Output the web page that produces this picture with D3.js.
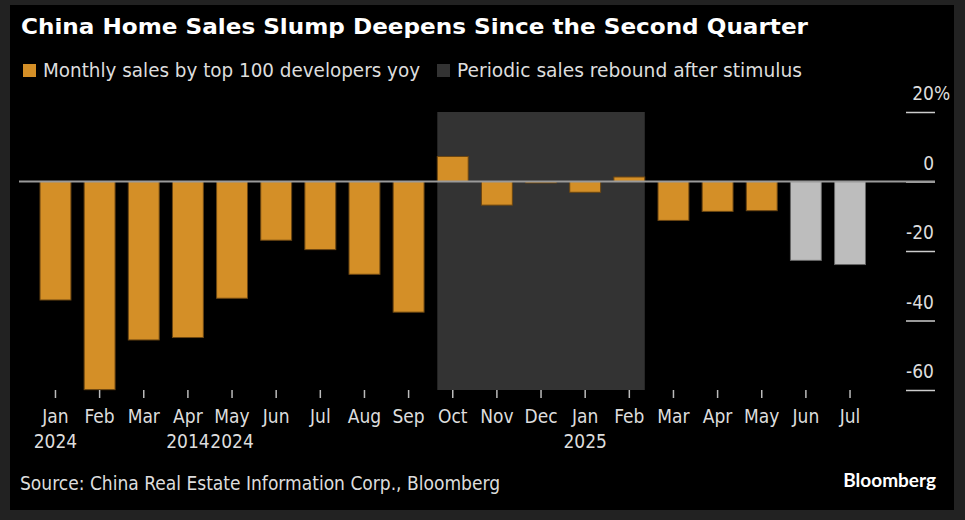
<!DOCTYPE html>
<html>
<head>
<meta charset="utf-8">
<script src="https://cdn.jsdelivr.net/npm/d3@7"></script>
<style>
  body { margin: 0; background: #222; }
  text { font-family: "Liberation Sans Narrow", "DejaVu Sans Condensed", "Roboto", sans-serif; }
</style>
</head>
<body>
<script>
// data
var months = ["Jan", "Feb", "Mar", "Apr", "May", "Jun", "Jul", "Aug", "Sep", "Oct", "Nov", "Dec",
              "Jan", "Feb", "Mar", "Apr", "May", "Jun", "Jul"];
var years = ["2024", "", "", "2014", "2024", "", "", "", "", "", "", "", "2025", "", "", "", "", "", ""];
var sales = [-34.1, -59.9, -45.6, -44.9, -33.6, -16.9, -19.6, -26.7, -37.6, 7.2, -6.8, -0.4,
             -3.1, 1.3, -11.2, -8.6, -8.4, -22.7, -23.9];
var prelim = [0, 0, 0, 0, 0, 0, 0, 0, 0, 0, 0, 0, 0, 0, 0, 0, 0, 1, 1];
var yTicks = [20, 0, -20, -40, -60];
var shadeFrom = 9, shadeTo = 13; // Oct 2024 .. Feb 2025

var W = 965, H = 520;
var svg = d3.select("body").append("svg").attr("width", W).attr("height", H);

svg.append("rect").attr("width", W).attr("height", H).attr("fill", "#222");
svg.append("rect").attr("x", 10).attr("y", 5).attr("width", 944).attr("height", 505).attr("fill", "#000");

var idx = d3.range(months.length);
var x = d3.scaleBand().domain(idx).range([33.4, 872.1]).paddingInner(0.3).paddingOuter(0.15);
var y = d3.scaleLinear().domain([20, -60]).range([112, 390]);

// shaded stimulus period
svg.append("rect")
    .attr("x", x(shadeFrom))
    .attr("y", y(20))
    .attr("width", x(shadeTo) + x.bandwidth() - x(shadeFrom))
    .attr("height", y(-60) - y(20))
    .attr("fill", "#333");

// y axis on the right
var yAxis = svg.append("g")
    .attr("transform", "translate(935,0)")
    .call(d3.axisLeft(y).tickValues(yTicks).tickSize(29).tickFormat(function (d) { return d; }));
yAxis.select(".domain").remove();
yAxis.selectAll(".tick line").attr("stroke", "#ccc").attr("stroke-width", 1.5);
yAxis.selectAll(".tick text")
    .attr("x", -1).attr("dy", -12.5)
    .attr("text-anchor", "end")
    .attr("fill", "#ddd")
    .style("font-size", "19px");
yAxis.selectAll(".tick").filter(function (d) { return d === 20; })
    .append("text").attr("x", -1).attr("dy", -12.5).attr("text-anchor", "start")
    .attr("fill", "#ddd").style("font-size", "19px").text("%");

// bars
svg.selectAll("rect.bar").data(idx).enter().append("rect")
    .attr("class", "bar")
    .attr("x", function (i) { return x(i); })
    .attr("y", function (i) { return y(Math.max(0, sales[i])); })
    .attr("width", x.bandwidth())
    .attr("height", function (i) { return Math.abs(y(sales[i]) - y(0)); })
    .attr("fill", function (i) { return prelim[i] ? "#bdbdbd" : "#d48f27"; })
    .attr("stroke", function (i) { return prelim[i] ? "#666" : "#6b4612"; })
    .attr("stroke-width", 1);

// zero line
svg.append("line")
    .attr("x1", 19).attr("x2", 935)
    .attr("y1", y(0)).attr("y2", y(0))
    .attr("stroke", "#9a9a9a").attr("stroke-width", 2);

// x axis
var xAxis = svg.append("g")
    .attr("transform", "translate(0," + y(-60) + ")")
    .call(d3.axisBottom(x).tickSize(8).tickFormat(function (i) { return months[i]; }));
xAxis.select(".domain").remove();
xAxis.selectAll(".tick line").attr("stroke", "#bbb").attr("stroke-width", 1.5);
xAxis.selectAll(".tick text").attr("y", 33).attr("dy", 0).attr("fill", "#ddd").style("font-size", "19px");
xAxis.selectAll(".tick").append("text")
    .attr("y", 58).attr("fill", "#ddd").attr("text-anchor", "middle").style("font-size", "19px")
    .text(function (i) { return years[i]; });

// title and legend
svg.append("text").attr("x", 21).attr("y", 34)
    .attr("fill", "#fff").style("font-family", "'DejaVu Sans', sans-serif")
    .style("font-weight", "bold").style("font-size", "22px")
    .attr("textLength", 787).attr("lengthAdjust", "spacingAndGlyphs")
    .text("China Home Sales Slump Deepens Since the Second Quarter");

var legend = [
    {label: "Monthly sales by top 100 developers yoy", color: "#d48f27", x: 23, w: 377},
    {label: "Periodic sales rebound after stimulus", color: "#333", x: 437, w: 345}
];
var lg = svg.selectAll("g.legend").data(legend).enter().append("g")
    .attr("class", "legend")
    .attr("transform", function (d) { return "translate(" + d.x + ",64)"; });
lg.append("rect").attr("width", 13).attr("height", 13).attr("fill", function (d) { return d.color; });
lg.append("text").attr("x", 20).attr("y", 13).attr("fill", "#ddd").style("font-size", "19px")
    .attr("textLength", function (d) { return d.w; }).attr("lengthAdjust", "spacingAndGlyphs")
    .text(function (d) { return d.label; });

// footer
svg.append("text").attr("x", 20).attr("y", 490).attr("fill", "#ddd").style("font-size", "19px")
    .attr("textLength", 480).attr("lengthAdjust", "spacingAndGlyphs")
    .text("Source: China Real Estate Information Corp., Bloomberg");
svg.append("text").attr("x", 936).attr("y", 487).attr("text-anchor", "end")
    .attr("fill", "#fff").style("font-family", "Lato, sans-serif").style("font-weight", "bold")
    .style("font-size", "19px").text("Bloomberg");
</script>
</body>
</html>
